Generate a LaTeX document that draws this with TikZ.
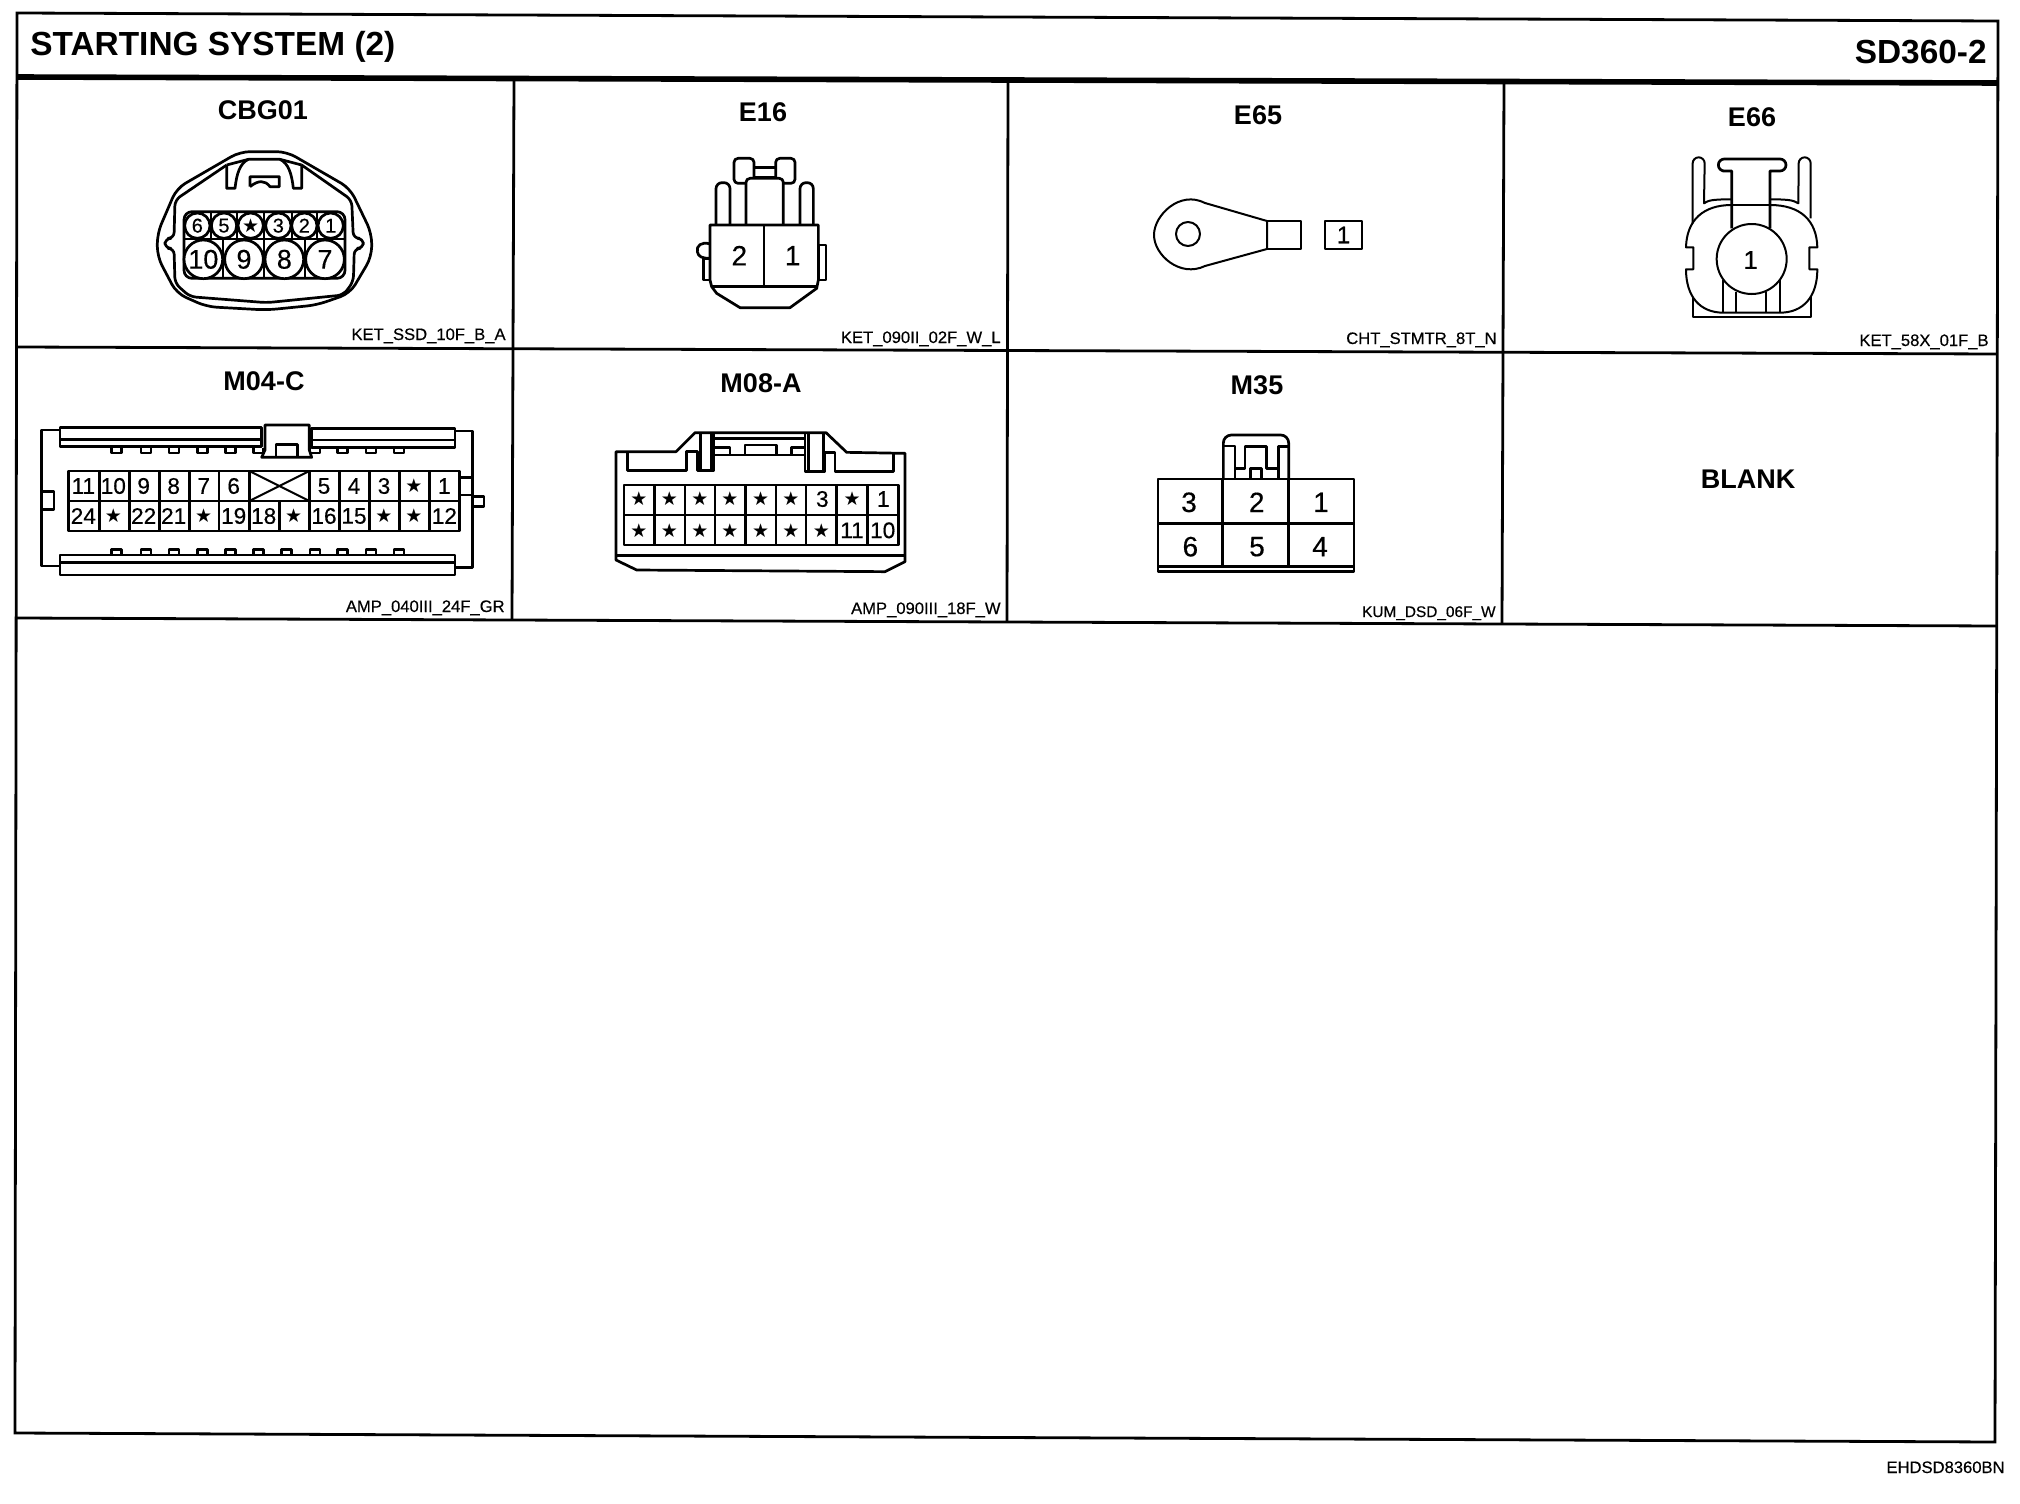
\documentclass[tikz,border=0pt]{standalone}
\usepackage{fontspec}
\setmainfont{Liberation Sans}
\newfontfamily\symf{DejaVu Sans}
\newfontfamily\heavyf[FakeBold=0.35]{Liberation Sans}
\newcommand\fs[1]{\fontsize{#1}{#1}\selectfont}
\newcommand\st{{\symf\fs{9.5}★}}
\tikzset{
  frame/.style={line width=1.4pt,black},
  heavy/.style={line width=2.8pt,black},
  ln/.style={line width=1.35pt,black,line join=round},
  thin ln/.style={line width=1pt,black,line join=round},
  pageTitle/.style={font=\bfseries\fs{16.7},inner sep=0pt},
  cellTitle/.style={font=\bfseries\fs{13.5},inner sep=0pt,anchor=center},
  code/.style={font=\heavyf\fs{8.3},inner sep=0pt,anchor=base east},
  pin/.style={inner sep=0pt,anchor=center},
  zoomed/.style={x=0.16667pt,y=-0.16667pt}
}
\begin{document}
\begin{tikzpicture}[x=0.5pt,y=-0.5pt]
\useasboundingbox (0,0) rectangle (2020,1504);
\fill[white] (0,0) rectangle (2020,1504);

% ---------- frame ----------
\draw[frame] (17,13) -- (1998,21) -- (1995,1442) -- (15,1433) -- cycle;
\draw[heavy] (17,77) -- (1998,83);
\draw[frame] (17,347) -- (1997,354);
\draw[frame] (16,618) -- (1997,626);
\draw[frame] (514,78) -- (512,619);
\draw[frame] (1008,79) -- (1007,621);
\draw[frame] (1504,80) -- (1502,624);

% ---------- page texts ----------
\node[pageTitle,anchor=base west] (ttl) at (30,56) {STARTING SYSTEM (2)};
\node[pageTitle,anchor=base east] (ttr) at (1987,64) {SD360-2};
\node[code] (ref) at (2005,1473) {EHDSD8360BN};

% ---------- cell titles ----------
\node[cellTitle] (tA) at (263,110) {CBG01};
\node[cellTitle] (tB) at (763,112) {E16};
\node[cellTitle] (tC) at (1258,115) {E65};
\node[cellTitle] (tD) at (1752,117) {E66};
\node[cellTitle] (tE) at (264,381) {M04-C};
\node[cellTitle] (tF) at (761,383) {M08-A};
\node[cellTitle] (tG) at (1257,385) {M35};
\node[cellTitle] (tH) at (1748,479) {BLANK};

% ---------- codes ----------
\node[code] (cA) at (506,340) {KET\_SSD\_10F\_B\_A};
\node[code] (cB) at (1001,343) {KET\_090II\_02F\_W\_L};
\node[code] (cC) at (1497,344) {CHT\_STMTR\_8T\_N};
\node[code] (cD) at (1989,346) {KET\_58X\_01F\_B};
\node[code] (cE) at (505,612) {AMP\_040III\_24F\_GR};
\node[code] (cF) at (1001,614) {AMP\_090III\_18F\_W};
\node[code,font=\heavyf\fs{7.7}] (cG) at (1496,617) {KUM\_DSD\_06F\_W};

% ---------- CBG01 ----------
\begin{scope}[zoomed]
\draw[ln,rounded corners=5pt] (790,455) -- (860,455) -- (1050,565) -- (1115,700) -- (1115,770) -- (1050,880) -- (950,915) -- (800,930) -- (620,920) -- (530,880) -- (472,770) -- (472,700) -- (530,565) -- (720,455) -- cycle;
\draw[ln,rounded corners=3pt] (680,495) -- (525,600) -- (522,715) -- (495,715) -- (495,745) -- (522,745) -- (525,850) -- (570,890) -- (800,908) -- (1030,885) -- (1060,845) -- (1063,745) -- (1090,745) -- (1090,715) -- (1060,715) -- (1055,600) -- (905,495);
\draw[ln] (680,495) -- (680,565) -- (705,565) .. controls (710,520) and (720,490) .. (745,478) -- (840,478) .. controls (865,490) and (875,520) .. (880,565) -- (905,565) -- (905,495);
\draw[ln] (680,495) -- (745,478) (840,478) -- (905,495);
\draw[ln] (750,560) -- (750,530) -- (838,530) -- (838,560) -- (810,560) .. controls (795,540) and (775,540) .. (750,560);
\draw[ln,rounded corners=4pt] (552,635) rectangle (1035,835);
\draw[thin ln] (552,718) -- (1035,718);
\foreach \x in {632,712,792,875,952} \draw[thin ln] (\x,635) -- (\x,718);
\foreach \x in {670,792,915} \draw[thin ln] (\x,718) -- (\x,835);
\foreach \x in {592,672,752,835,913,992} \draw[ln,fill=white] (\x,677) circle [radius=38];
\foreach \x in {610,732,853,975} \draw[ln,fill=white] (\x,778) circle [radius=58];
\foreach \x/\t [count=\i] in {592/6,672/5,752/\st,835/3,913/2,992/1}
  \node[pin,font=\heavyf\fs{10}] (a\i) at (\x,677) {\t};
\foreach \x/\t [count=\i] in {610/10,732/9,853/8,975/7}
  \node[pin,font=\heavyf\fs{13.5}] (b\i) at (\x,778) {\t};
\end{scope}

% ---------- E16 ----------
\begin{scope}[shift={(510,60)},zoomed]
\draw[ln,rounded corners=3pt] (618,495) -- (618,368) -- (660,368) -- (660,495);
\draw[ln,rounded corners=3pt] (870,495) -- (870,368) -- (910,368) -- (910,495);
\draw[ln,rounded corners=2pt] (820,370) -- (855,370) -- (855,295) -- (797,295) -- (797,352);
\draw[ln,rounded corners=2pt] (708,370) -- (672,370) -- (672,295) -- (732,295) -- (732,352);
\draw[ln] (732,322) -- (797,322) (732,352) -- (797,352);
\draw[ln,rounded corners=2pt] (708,495) -- (708,355) -- (820,355) -- (820,495);
\draw[ln] (600,552) .. controls (575,543) and (558,558) .. (562,575) .. controls (565,590) and (575,595) .. (600,595);
\draw[ln] (580,595) rectangle (600,660);
\draw[ln] (925,555) rectangle (948,660);
\draw[ln] (600,495) -- (925,495) -- (925,660) -- (920,685) -- (840,743) -- (690,743) -- (620,700) -- (605,680) -- (600,660) -- cycle;
\draw[ln] (762,495) -- (762,680) (605,680) -- (920,680);
\node[pin,font=\heavyf\fs{14}] (e2) at (688,587) {2};
\node[pin,font=\heavyf\fs{14}] (e1) at (848,587) {1};
\end{scope}

% ---------- E65 ----------
\begin{scope}
\draw[thin ln] (1267,221) -- (1205,203) .. controls (1180,190) and (1154,215) .. (1154,235) .. controls (1154,255) and (1180,278) .. (1205,266) -- (1267,249) -- cycle;
\draw[thin ln] (1267,221) -- (1301,221) -- (1301,249) -- (1267,249);
\draw[thin ln] (1188,234) circle [radius=12];
\node[pin,draw,thin ln,minimum width=18.5pt,minimum height=14pt,font=\heavyf\fs{12}] (g1) at (1343.5,235) {1};
\end{scope}

% ---------- E66 ----------
\begin{scope}[shift={(1660,140)},zoomed]
\draw[thin ln] (98,250) -- (98,70) arc[start angle=180,end angle=360,radius=18] -- (132,190) .. controls (145,182) and (150,178) .. (215,178);
\draw[thin ln] (452,235) -- (452,70) arc[start angle=0,end angle=-180,radius=18] -- (415,190) .. controls (400,182) and (395,178) .. (330,178);
\draw[ln] (215,265) -- (215,93) -- (188,93) [rounded corners=3pt] -- (175,93) -- (175,57) -- (378,57) -- (378,93) [sharp corners] -- (330,93) -- (330,265);
\draw[ln] (215,195) -- (330,195);
\draw[thin ln] (215,195) .. controls (130,195) and (80,240) .. (78,322) -- (100,322) -- (100,388) -- (78,388) .. controls (78,470) and (120,518) .. (190,518) -- (360,518) .. controls (430,518) and (472,470) .. (472,388) -- (448,388) -- (448,322) -- (472,322) .. controls (470,240) and (420,195) .. (330,195);
\draw[thin ln] (98,470) -- (98,530) -- (452,530) -- (452,470);
\foreach \x/\y in {188/420,228/455,318/455,360/420} \draw[thin ln] (\x,\y) -- (\x,518);
\draw[thin ln,fill=white] (275,357) circle [radius=105];
\node[pin,font=\heavyf\fs{13}] (k1) at (272,360) {1};
\end{scope}

% ---------- M04-C ----------
\begin{scope}[shift={(0,350)},zoomed]
\draw[ln] (180,240) -- (125,240) -- (125,648) -- (180,648);
\draw[ln] (1365,243) -- (1418,243) -- (1418,652) -- (1365,652);
\draw[ln] (125,425) -- (162,425) -- (162,478) -- (125,478);
\foreach \x in {350,438,522,607,692,775,945,1028,1113,1197} \draw[ln] (\x-15,293) -- (\x-15,309) -- (\x+15,309) -- (\x+15,293);
\foreach \x in {350,438,522,607,692,775,860,945,1028,1113,1197} \draw[ln] (\x-15,615) -- (\x-15,598) -- (\x+15,598) -- (\x+15,615);
\draw[ln,fill=white] (180,233) rectangle (785,290);
\draw[ln] (180,268) -- (785,268);
\draw[ln,fill=white] (935,235) rectangle (1365,293);
\draw[ln] (935,270) -- (1365,270);
\draw[ln,fill=white] (180,615) rectangle (1365,675);
\draw[ln] (180,637) -- (1365,637);
\draw[ln,fill=white] (795,300) -- (795,225) -- (928,225) -- (928,300) -- (935,322) -- (785,322) -- cycle;
\draw[ln] (828,322) -- (828,283) -- (893,283) -- (893,322);
\draw[ln] (1380,383) rectangle (1418,435);
\draw[ln] (1418,440) -- (1452,440) -- (1452,470) -- (1418,470);
\draw[ln] (205,363) rectangle (1378,543);
\draw[ln] (205,453) -- (1378,453);
\foreach \x in {298,388,478,568,657,748,928,1018,1108,1198,1288} \draw[ln] (\x,363) -- (\x,543);
\draw[ln] (838,453) -- (838,543);
\draw[thin ln] (748,363) -- (928,453) (748,453) -- (928,363);
\foreach \x/\t [count=\i] in {250/11,340/10,431/9,521/8,611/7,701/6,972/5,1062/4,1152/3,1242/\st,1333/1}
  \node[pin,font=\heavyf\fs{11.3}] (p\i) at (\x,408) {\t};
\foreach \x/\t [count=\i] in {250/24,340/\st,431/22,521/21,611/\st,701/19,791/18,881/\st,972/16,1062/15,1152/\st,1242/\st,1333/12}
  \node[pin,font=\heavyf\fs{11.3}] (q\i) at (\x,498) {\t};
\end{scope}

% ---------- M08-A ----------
\begin{scope}[shift={(510,350)},zoomed]
\draw[ln] (498,305) -- (555,248) -- (948,248) -- (1010,307) -- (1185,310) -- (1185,635) -- (1125,665) -- (380,660) -- (318,630) -- (318,305) -- cycle;
\draw[ln] (318,617) -- (1185,617);
\draw[ln] (353,310) -- (353,362) -- (530,362) -- (530,305) -- (562,305) -- (562,362) -- (612,362) -- (612,248);
\draw[ln] (572,250) -- (572,360) (605,250) -- (605,360);
\draw[ln] (885,248) -- (885,365) -- (945,365) -- (945,308) -- (975,308) -- (975,365) -- (1150,365) -- (1150,310);
\draw[ln] (895,250) -- (895,360) (940,250) -- (940,360);
\draw[ln] (612,265) -- (885,265) (612,315) -- (885,315);
\draw[ln] (612,293) -- (660,293) -- (660,315) (845,315) -- (845,293) -- (885,293);
\draw[ln] (705,315) -- (705,285) -- (800,285) -- (800,315);
\draw[ln] (342,405) rectangle (1165,585);
\draw[ln] (342,495) -- (1165,495);
\foreach \x in {433,525,615,706,798,888,980,1072} \draw[ln] (\x,405) -- (\x,585);
\foreach \x/\t [count=\i] in {387/\st,478/\st,570/\st,660/\st,752/\st,843/\st,937/3,1026/\st,1120/1}
  \node[pin,font=\heavyf\fs{11.3}] (r\i) at (\x,447) {\t};
\foreach \x/\t [count=\i] in {387/\st,478/\st,570/\st,660/\st,752/\st,843/\st,934/\st,1026/11,1118/10}
  \node[pin,font=\heavyf\fs{11.3}] (s\i) at (\x,541) {\t};
\end{scope}

% ---------- M35 ----------
\begin{scope}[shift={(1010,350)},zoomed]
\draw[ln,rounded corners=4pt] (640,387) -- (640,255) -- (836,255) -- (836,387);
\draw[ln] (640,288) -- (675,288) -- (675,387);
\draw[ln] (675,355) -- (705,355) -- (705,290) -- (770,290) -- (770,355) -- (805,355) -- (805,290) -- (836,290);
\draw[ln] (805,355) -- (805,387);
\draw[ln] (722,387) -- (722,355) -- (755,355) -- (755,387);
\draw[ln] (444,387) rectangle (1032,665);
\draw[ln] (444,520) -- (1032,520) (444,650) -- (1032,650);
\draw[ln] (638,387) -- (638,650) (836,387) -- (836,650);
\foreach \x/\t [count=\i] in {537/3,740/2,933/1}
  \node[pin,font=\heavyf\fs{14}] (u\i) at (\x,457) {\t};
\foreach \x/\t [count=\i] in {541/6,741/5,930/4}
  \node[pin,font=\heavyf\fs{14}] (v\i) at (\x,590) {\t};
\end{scope}
\end{tikzpicture}
\end{document}
